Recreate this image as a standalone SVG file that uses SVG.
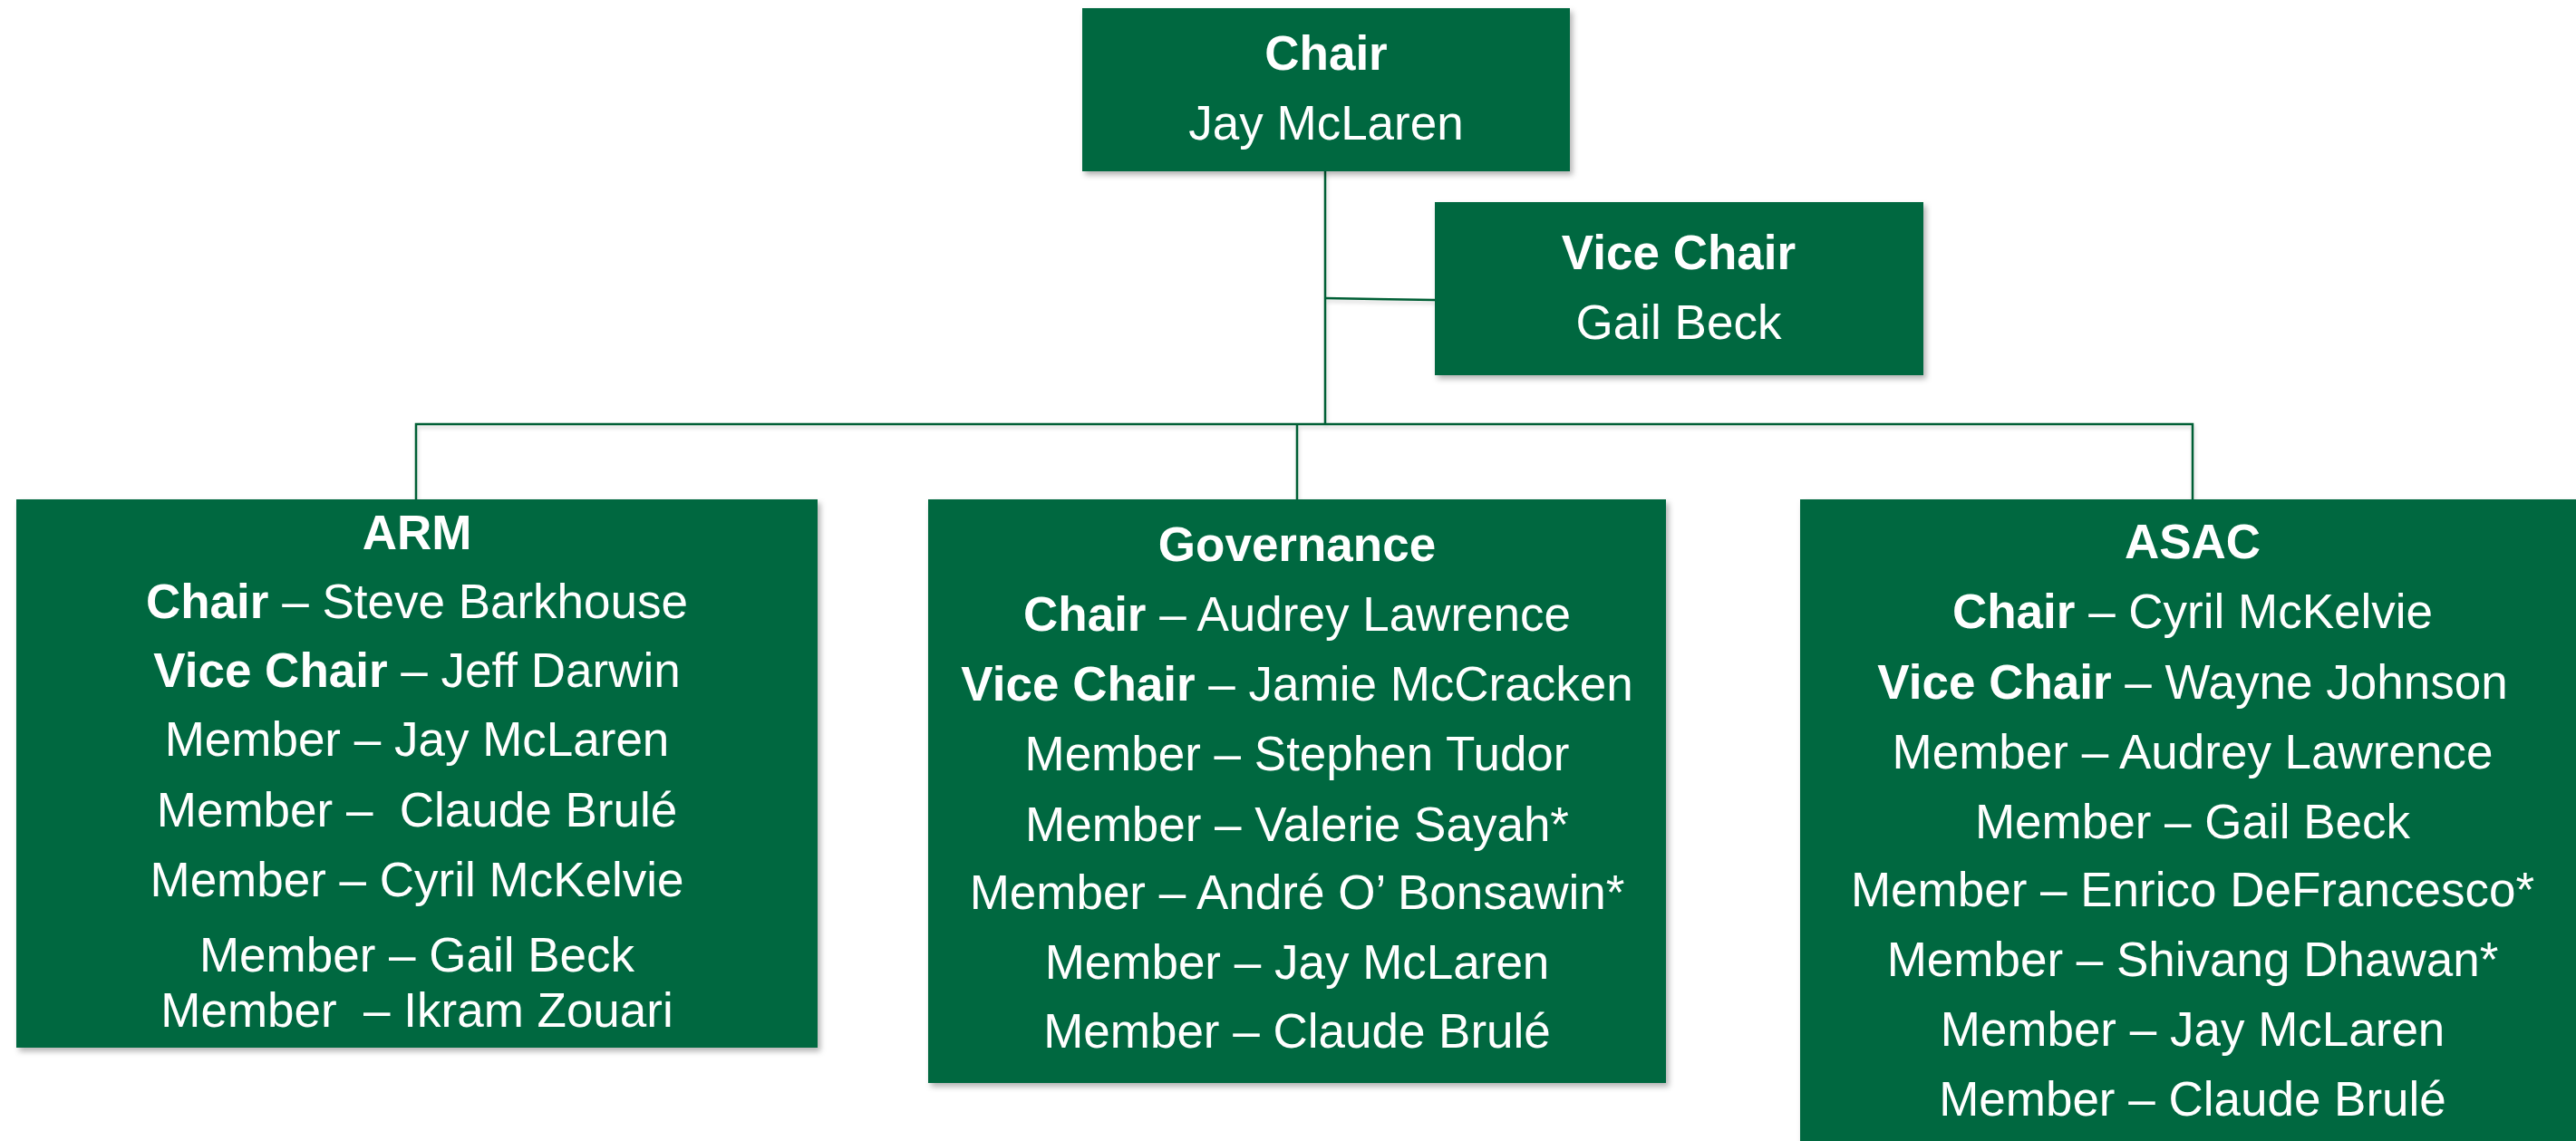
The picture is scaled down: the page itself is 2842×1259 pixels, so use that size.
<svg xmlns="http://www.w3.org/2000/svg" width="2842" height="1259" viewBox="0 0 2842 1259">
  <defs>
    <filter id="shadow" x="-5%" y="-5%" width="110%" height="115%">
      <feDropShadow dx="3" dy="4" stdDeviation="3" flood-color="#000" flood-opacity="0.3"/>
    </filter>
    <filter id="lineShadow" x="-5%" y="-50%" width="110%" height="200%">
      <feDropShadow dx="1" dy="3" stdDeviation="2" flood-color="#000" flood-opacity="0.18"/>
    </filter>
    <style>
      .box { fill: #036840; filter: url(#shadow); }
      .conn { stroke: #005E35; stroke-width: 2.5; fill: none; }
      text { font-family: "Liberation Sans", Arial, sans-serif; font-size: 53px; fill: #ffffff; text-anchor: middle; white-space: pre; }
      .b { font-weight: bold; }
    </style>
  </defs>

  <rect width="2842" height="1259" fill="#ffffff"/>

  <!-- connectors -->
  <g id="connectors" filter="url(#lineShadow)">
    <line class="conn" x1="1462" y1="189" x2="1462" y2="468"/>
    <line class="conn" x1="1462" y1="329" x2="1583" y2="331"/>
    <polyline class="conn" points="459,551 459,468 2419,468 2419,551"/>
    <line class="conn" x1="1431" y1="468" x2="1431" y2="551"/>
  </g>

  <!-- top chair -->
  <g id="chair">
    <rect class="box" x="1194" y="9" width="538" height="180"/>
    <text x="1463" y="77" class="b">Chair</text>
    <text x="1463" y="154">Jay McLaren</text>
  </g>

  <!-- vice chair -->
  <g id="vice-chair">
    <rect class="box" x="1583" y="223" width="539" height="191"/>
    <text x="1852" y="297" class="b">Vice Chair</text>
    <text x="1852" y="374">Gail Beck</text>
  </g>

  <!-- ARM committee -->
  <g id="arm">
    <rect class="box" x="18" y="551" width="884" height="605"/>
    <text x="460" y="606" class="b">ARM</text>
    <text x="460" y="682"><tspan class="b">Chair</tspan> – Steve Barkhouse</text>
    <text x="460" y="758"><tspan class="b">Vice Chair</tspan> – Jeff Darwin</text>
    <text x="460" y="834">Member – Jay McLaren</text>
    <text x="460" y="912">Member –  Claude Brulé</text>
    <text x="460" y="989">Member – Cyril McKelvie</text>
    <text x="460" y="1072">Member – Gail Beck</text>
    <text x="460" y="1133">Member  – Ikram Zouari</text>
  </g>

  <!-- Governance committee -->
  <g id="governance">
    <rect class="box" x="1024" y="551" width="814" height="644"/>
    <text x="1431" y="619" class="b">Governance</text>
    <text x="1431" y="696"><tspan class="b">Chair</tspan> – Audrey Lawrence</text>
    <text x="1431" y="773"><tspan class="b">Vice Chair</tspan> – Jamie McCracken</text>
    <text x="1431" y="850">Member – Stephen Tudor</text>
    <text x="1431" y="928">Member – Valerie Sayah*</text>
    <text x="1431" y="1003">Member – André O’ Bonsawin*</text>
    <text x="1431" y="1080">Member – Jay McLaren</text>
    <text x="1431" y="1156">Member – Claude Brulé</text>
  </g>

  <!-- ASAC committee -->
  <g id="asac">
    <rect class="box" x="1986" y="551" width="866" height="720"/>
    <text x="2419" y="616" class="b">ASAC</text>
    <text x="2419" y="693"><tspan class="b">Chair</tspan> – Cyril McKelvie</text>
    <text x="2419" y="771"><tspan class="b">Vice Chair</tspan> – Wayne Johnson</text>
    <text x="2419" y="848">Member – Audrey Lawrence</text>
    <text x="2419" y="925">Member – Gail Beck</text>
    <text x="2419" y="1000">Member – Enrico DeFrancesco*</text>
    <text x="2419" y="1077">Member – Shivang Dhawan*</text>
    <text x="2419" y="1154">Member – Jay McLaren</text>
    <text x="2419" y="1231">Member – Claude Brulé</text>
  </g>
</svg>
